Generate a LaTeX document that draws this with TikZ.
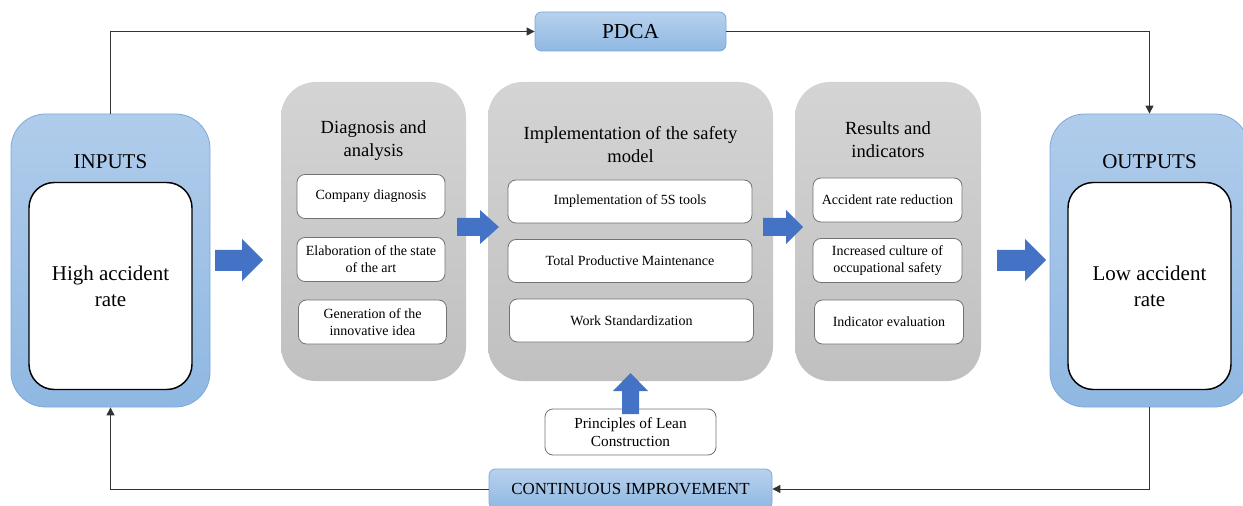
\documentclass[tikz,border=0pt]{standalone}
\usepackage{fontspec}
\setmainfont{Liberation Serif}
\usetikzlibrary{arrows.meta}

\definecolor{boxbluetop}{RGB}{176,204,235}
\definecolor{boxbluebot}{RGB}{143,184,226}
\definecolor{boxblueline}{RGB}{125,168,216}
\definecolor{graytop}{RGB}{212,212,212}
\definecolor{graybot}{RGB}{192,192,192}
\definecolor{arrowblue}{RGB}{68,114,196}

\tikzset{every picture/.style={line width=0.75pt}}
\tikzset{
  bluebox/.style={rounded corners=26pt,top color=boxbluetop,bottom color=boxbluebot,draw=boxblueline,line width=0.6pt},
  whitebox/.style={rounded corners=19pt,fill=white,draw=black,line width=1.1pt,align=center,font=\fontsize{15.75}{19.5}\selectfont},
  graybox/.style={rounded corners=26pt,top color=graytop,bottom color=graybot,draw=none},
  itembox/.style={rounded corners=6pt,fill=white,draw=black!55,line width=0.6pt,align=center,inner sep=1pt,font=\fontsize{10.5}{12.75}\selectfont},
  tagbox/.style={rounded corners=5pt,top color=boxbluetop!90!white,bottom color=boxbluebot,draw=boxblueline,line width=0.6pt},
  titletext/.style={align=center,inner sep=0.75pt,font=\fontsize{13.9}{17.25}\selectfont},
  bigtext/.style={inner sep=0.75pt,font=\fontsize{15.75}{19.5}\selectfont},
  loopline/.style={draw=black!80,line width=0.75pt,-{Triangle[length=6pt,width=6pt]}},
  blockarrow/.style={fill=arrowblue}
}

\begin{document}
\begin{tikzpicture}[x=0.75pt,y=0.75pt,yscale=-1,xscale=1]
\clip (0,0) rectangle (1243,506);

%Shape: Inputs
\node[bluebox,minimum width=149.25pt,minimum height=219.75pt] (inputs) at (110.5,260.5) {};
\node[whitebox,minimum width=122.25pt,minimum height=155.25pt] (high) at (110.5,286) {High accident\\rate};
% Text Node
\node[bigtext] (inputstext) at (110.5,161.5) {INPUTS};

%Shape: Outputs
\node[bluebox,minimum width=149.25pt,minimum height=219.75pt] (outputs) at (1149.5,260.5) {};
\node[whitebox,minimum width=122.25pt,minimum height=155.25pt] (low) at (1149.5,286) {Low accident\\rate};
% Text Node
\node[bigtext] (outputstext) at (1149.5,161.5) {OUTPUTS};

%Shape: Diagnosis column
\node[graybox,minimum width=138.75pt,minimum height=224.25pt] (diag) at (373.5,231.5) {};
\node[titletext] (diagtitle) at (373.5,140.5) {Diagnosis and\\analysis};
\node[itembox,minimum width=111pt,minimum height=33pt] (diag1) at (371,196.5) {Company diagnosis};
\node[itembox,minimum width=111pt,minimum height=33pt] (diag2) at (371,259.5) {Elaboration of the state\\of the art};
\node[itembox,minimum width=111pt,minimum height=33pt] (diag3) at (372.5,322) {Generation of the\\innovative idea};

%Shape: Implementation column
\node[graybox,minimum width=213.75pt,minimum height=224.25pt] (impl) at (630.5,231.5) {};
\node[titletext] (impltitle) at (630.5,145) {Implementation of the safety\\model};
\node[itembox,minimum width=183pt,minimum height=32.25pt] (impl1) at (630,201.5) {Implementation of 5S tools};
\node[itembox,minimum width=183pt,minimum height=32.25pt] (impl2) at (630,261) {Total Productive Maintenance};
\node[itembox,minimum width=183pt,minimum height=32.25pt] (impl3) at (631.5,320.5) {Work Standardization};

%Shape: Results column
\node[graybox,minimum width=139.5pt,minimum height=224.25pt] (res) at (888,231.5) {};
\node[titletext] (restitle) at (888,139.5) {Results and\\indicators};
\node[itembox,minimum width=111.75pt,minimum height=33pt] (res1) at (887.5,200) {Accident rate reduction};
\node[itembox,minimum width=111.75pt,minimum height=33pt] (res2) at (887.5,260.5) {Increased culture of\\occupational safety};
\node[itembox,minimum width=111.75pt,minimum height=33pt] (res3) at (889,322) {Indicator evaluation};

%Shape: Lean principles
\node[itembox,minimum width=128.25pt,minimum height=34.5pt,font=\fontsize{11.5}{13.5}\selectfont] (lean) at (630.5,432) {Principles of Lean\\Construction};

%Shape: PDCA and continuous improvement
\node[tagbox,minimum width=143.25pt,minimum height=29.25pt,font=\fontsize{16}{19}\selectfont] (pdca) at (630.5,31.5) {PDCA};
\node[tagbox,minimum width=212.25pt,minimum height=30pt,font=\fontsize{12.7}{15}\selectfont] (ci) at (630.5,489) {CONTINUOUS IMPROVEMENT};

%Shape: Block arrows
\fill[blockarrow] (215,250) -- (242,250) -- (242,239) -- (263,260) -- (242,281) -- (242,271) -- (215,271) -- cycle;
\fill[blockarrow] (457,218) -- (480,218) -- (480,210) -- (499,227) -- (480,244) -- (480,236) -- (457,236) -- cycle;
\fill[blockarrow] (763,218) -- (786,218) -- (786,210) -- (803,227) -- (786,244) -- (786,236) -- (763,236) -- cycle;
\fill[blockarrow] (997,250) -- (1025,250) -- (1025,239) -- (1046,260) -- (1025,281) -- (1025,271) -- (997,271) -- cycle;
\fill[blockarrow] (622,414) -- (622,391) -- (613,391) -- (630.5,373) -- (648,391) -- (639,391) -- (639,414) -- cycle;

%Straight Lines: feedback loop
\draw[loopline] (inputs.north) |- (pdca.west);
\draw[loopline] (pdca.east) -| (outputs.north);
\draw[loopline] (outputs.south) |- (ci.east);
\draw[loopline] (ci.west) -| (inputs.south);

\end{tikzpicture}
\end{document}
